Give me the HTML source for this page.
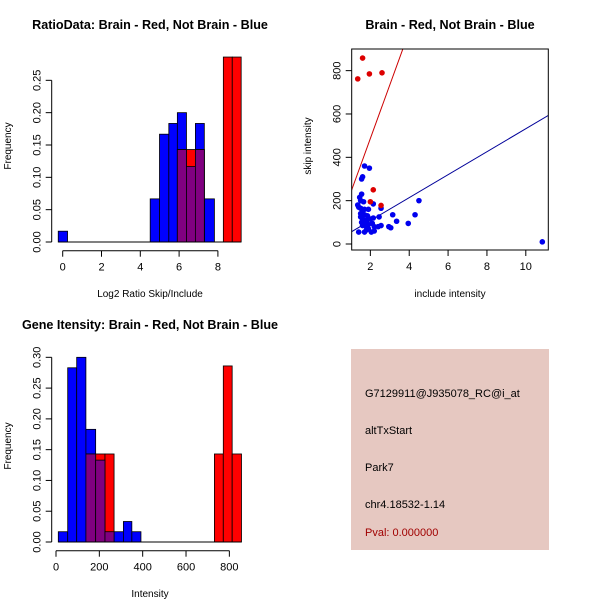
<!DOCTYPE html>
<html><head><meta charset="utf-8"><style>
html,body{margin:0;padding:0;background:#fff}
svg{display:block;font-family:"Liberation Sans",sans-serif}
</style></head><body>
<svg id="chart" width="600" height="600" viewBox="0 0 600 600" xmlns="http://www.w3.org/2000/svg">
<rect width="600" height="600" fill="#fff"/>
<g id="p1"></g>
<g id="p2"></g>
<g id="p3"></g>
<g id="p4">
<rect x="351" y="349" width="198" height="201" fill="#e6c8c1"/>
<text x="365" y="397" font-size="11">G7129911@J935078_RC@i_at</text>
<text x="365" y="434" font-size="11">altTxStart</text>
<text x="365" y="471" font-size="11">Park7</text>
<text x="365" y="508" font-size="11">chr4.18532-1.14</text>
<text x="365" y="536" font-size="11" fill="#a00000">Pval: 0.000000</text>
</g>
</svg>
<script>
// Panel 1 data: ratio histogram
const ratioBreaks = [-0.23,0.25,0.72,1.19,1.66,2.13,2.6,3.07,3.54,4.01,4.51,4.99,5.47,5.91,6.38,6.84,7.30,7.82,8.28,8.74,9.2];
const ratioBlue = [0.0167,0,0,0,0,0,0,0,0,0,0.0667,0.1667,0.1833,0.2,0.1167,0.1833,0.0667,0,0,0];
const ratioRed  = [0,0,0,0,0,0,0,0,0,0,0,0,0,0.143,0.143,0.143,0,0,0.286,0.286];
const ratioXTicks = [0,2,4,6,8];
const ratioYTicks = [0,0.05,0.10,0.15,0.20,0.25];
// Panel 2 data: scatter
const blueX = [1.4,1.7,1.95,1.6,1.55,1.55,1.45,1.5,1.65,1.35,1.4,1.5,1.6,1.7,1.9,1.5,1.7,1.85,1.5,1.6,1.8,2.0,2.15,1.55,1.7,1.9,2.1,1.6,1.8,2.2,1.7,2.05,1.9,2.15,2.55,2.45,2.4,2.55,2.95,3.05,3.15,3.35,3.95,4.3,4.5,10.85,2.2,1.8];
const blueY = [55,360,350,310,300,230,215,200,195,180,170,165,155,160,160,140,135,130,125,115,110,115,120,100,95,90,95,85,80,80,55,55,70,185,165,125,80,85,80,75,135,105,95,135,200,10,60,65];
const redX = [1.35,1.6,1.95,2.6,2.15,2.0,2.55];
const redY = [762,858,785,790,250,195,178];
const redFit = [-7,247];   // intercept, slope
const blueFit = [2,53];
const scatXTicks = [2,4,6,8,10];
const scatYTicks = [0,200,400,600,800];
// Panel 3 data: intensity histogram
const intBreaks = [10.6,54,95.5,138,183,226,268,311,350,392,434,476,518,560,602,644,686,731,772,813,856];
const intBlue = [0.0167,0.283,0.3,0.183,0.133,0.0167,0.0167,0.0333,0.0167,0,0,0,0,0,0,0,0,0,0,0];
const intRed  = [0,0,0,0.143,0.143,0.143,0,0,0,0,0,0,0,0,0,0,0,0.143,0.286,0.143];
const intXTicks = [0,200,400,600,800];
const intYTicks = [0,0.05,0.10,0.15,0.20,0.25,0.30];

const NS="http://www.w3.org/2000/svg";
function mk(parent,tag,attrs){const e=document.createElementNS(NS,tag);for(const k in attrs)e.setAttribute(k,attrs[k]);parent.appendChild(e);return e;}
function txt(parent,x,y,s,size,extra){const t=mk(parent,'text',Object.assign({x:x,y:y,'font-size':size},extra||{}));t.textContent=s;return t;}

function axes(g,sx,sy,xt,yt,xAxisY,yAxisX,fmtY,noLines){
  const xa=mk(g,'g',{});
  
  
  if(!noLines) mk(xa,'line',{x1:sx(xt[0]),x2:sx(xt[xt.length-1]),y1:xAxisY,y2:xAxisY,stroke:'#000'});
  xt.forEach(v=>{mk(xa,'line',{x1:sx(v),x2:sx(v),y1:xAxisY,y2:xAxisY+6,stroke:'#000'});
    const t=txt(xa,sx(v),xAxisY+20,String(v),11,{'text-anchor':'middle'});
    
    });
  const ya=mk(g,'g',{});
  
  
  if(!noLines) mk(ya,'line',{x1:yAxisX,x2:yAxisX,y1:sy(yt[0]),y2:sy(yt[yt.length-1]),stroke:'#000'});
  yt.forEach(v=>{mk(ya,'line',{x1:yAxisX,x2:yAxisX-6,y1:sy(v),y2:sy(v),stroke:'#000'});
    const t=txt(ya,yAxisX-11,sy(v),fmtY(v),11,{'text-anchor':'middle',transform:`rotate(-90 ${yAxisX-11} ${sy(v)})`});
    
    });
}

function hist(g,breaks,blue,red,sx,sy){
  for(let i=0;i<blue.length;i++){ if(blue[i]>0){const r=mk(g,'rect',{x:sx(breaks[i]),y:sy(blue[i]),width:sx(breaks[i+1])-sx(breaks[i]),height:sy(0)-sy(blue[i]),fill:'#0000ff',stroke:'#000','stroke-width':0.8});
    
    }}
  for(let i=0;i<red.length;i++){ if(red[i]>0){const r=mk(g,'rect',{x:sx(breaks[i]),y:sy(red[i]),width:sx(breaks[i+1])-sx(breaks[i]),height:sy(0)-sy(red[i]),fill:'#ff0000',stroke:'#000','stroke-width':0.8});
    
    }}
  for(let i=0;i<red.length;i++){ const m=Math.min(red[i],blue[i]); if(m>0){const r=mk(g,'rect',{x:sx(breaks[i]),y:sy(m),width:sx(breaks[i+1])-sx(breaks[i]),height:sy(0)-sy(m),fill:'#800080',stroke:'#000','stroke-width':0.8});
    
    }}
  mk(g,'line',{x1:sx(breaks[0]),x2:sx(breaks[breaks.length-1]),y1:sy(0),y2:sy(0),stroke:'#000'});
}
const f2=v=>v.toFixed(2);

// Panel 1
(function(){
  const g=document.getElementById('p1');
  const sx=v=>62.7+v*19.4, sy=v=>242-v*646.7;
  hist(g,ratioBreaks,ratioBlue,ratioRed,sx,sy);
  axes(g,sx,sy,ratioXTicks,ratioYTicks,250.7,51.7,f2);
  let t=txt(g,150,29,'RatioData: Brain - Red, Not Brain - Blue',12.6,{'text-anchor':'middle','font-weight':'bold'});
  
  
  t=txt(g,150,297,'Log2 Ratio Skip/Include',10,{'text-anchor':'middle'});
  
  
  t=txt(g,11,146,'Frequency',10,{'text-anchor':'middle',transform:'rotate(-90 11 146)'});
  
  
})();

// Panel 2
(function(){
  const g=document.getElementById('p2');
  const sx=v=>331.5+v*19.43, sy=v=>244-v*0.2167;
  const clip=mk(g,'clipPath',{id:'c2'}); mk(clip,'rect',{x:351.7,y:49,width:196.6,height:201});
  const pg=mk(g,'g',{'clip-path':'url(#c2)'});
  const x0=0.9,x1=11.5;
  let l=mk(pg,'line',{x1:sx(x0),y1:sy(redFit[0]+redFit[1]*x0),x2:sx(x1),y2:sy(redFit[0]+redFit[1]*x1),stroke:'#cc0000'});
  
  
  l=mk(pg,'line',{x1:sx(x0),y1:sy(blueFit[0]+blueFit[1]*x0),x2:sx(x1),y2:sy(blueFit[0]+blueFit[1]*x1),stroke:'#000099'});
  
  
  blueX.forEach((x,i)=>{const c=mk(pg,'circle',{cx:sx(x),cy:sy(blueY[i]),r:2.8,fill:'#0000ee'});
    
    });
  redX.forEach((x,i)=>{const c=mk(pg,'circle',{cx:sx(x),cy:sy(redY[i]),r:2.8,fill:'#dd0000'});
    
    });
  const b=mk(g,'rect',{x:351.7,y:49,width:196.6,height:201,fill:'none',stroke:'#000'});
  
  
  axes(g,sx,sy,scatXTicks,scatYTicks,250,351.7,v=>String(v),true);
  let t=txt(g,450,29,'Brain - Red, Not Brain - Blue',12.6,{'text-anchor':'middle','font-weight':'bold'});
  
  
  t=txt(g,450,297,'include intensity',10,{'text-anchor':'middle'});
  
  
  t=txt(g,311,146,'skip intensity',10,{'text-anchor':'middle',transform:'rotate(-90 311 146)'});
  
  
})();

// Panel 3
(function(){
  const g=document.getElementById('p3');
  const sx=v=>56+v*0.2167, sy=v=>542-v*615.6;
  hist(g,intBreaks,intBlue,intRed,sx,sy);
  axes(g,sx,sy,intXTicks,intYTicks,550.7,51.7,f2);
  let t=txt(g,150,329,'Gene Itensity: Brain - Red, Not Brain - Blue',12.6,{'text-anchor':'middle','font-weight':'bold'});
  
  
  t=txt(g,150,597,'Intensity',10,{'text-anchor':'middle'});
  
  
  t=txt(g,11,446,'Frequency',10,{'text-anchor':'middle',transform:'rotate(-90 11 446)'});
  
  
})();
</script>
</body></html>
